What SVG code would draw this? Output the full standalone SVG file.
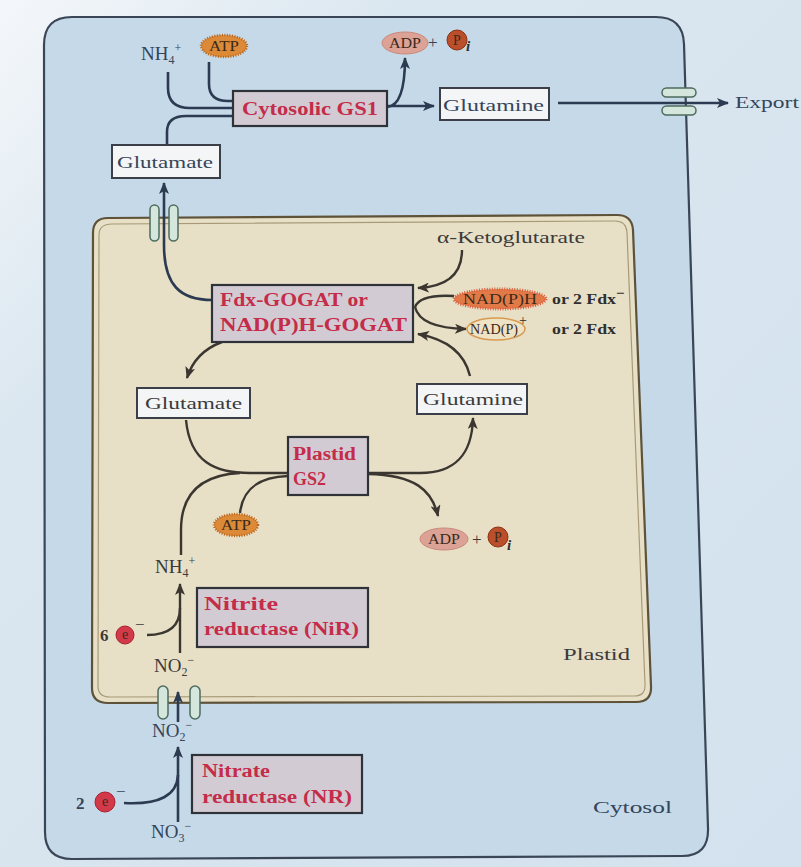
<svg xmlns="http://www.w3.org/2000/svg" width="801" height="867" viewBox="0 0 801 867">
<defs>
<linearGradient id="bg" x1="0" y1="0" x2="1" y2="1">
<stop offset="0" stop-color="#f4f7fa"/>
<stop offset="0.25" stop-color="#dbe7f0"/>
<stop offset="1" stop-color="#d3e2ee"/>
</linearGradient>
<marker id="ah" viewBox="0 0 12 10" refX="11" refY="5" markerWidth="12" markerHeight="10" markerUnits="userSpaceOnUse" orient="auto">
<path d="M0 0 L12 5 L0 10 L3 5 Z" fill="#2c3a52"/>
</marker>
<marker id="ahp" viewBox="0 0 12 10" refX="11" refY="5" markerWidth="12" markerHeight="10" markerUnits="userSpaceOnUse" orient="auto">
<path d="M0 0 L12 5 L0 10 L3 5 Z" fill="#3b3630"/>
</marker>
<style>
.t{font-family:"Liberation Serif","DejaVu Serif",serif;font-size:17px;fill:#34455a}
.tp{font-family:"Liberation Serif","DejaVu Serif",serif;font-size:17px;fill:#3c3a3a}
.chem{font-size:19px}
.enz{font-family:"Liberation Serif","DejaVu Serif",serif;font-weight:bold;font-size:18px;fill:#c42c4a}
.sm{font-family:"Liberation Serif","DejaVu Serif",serif;font-size:14px;fill:#3a2a1a;text-anchor:middle}
.smb{font-family:"Liberation Serif","DejaVu Serif",serif;font-size:15px;font-weight:bold;fill:#2f2f2f}
.box{fill:#f3f5f7;stroke:#3a3f48;stroke-width:2}
.ebox{fill:#d3cbd3;stroke:#2f3238;stroke-width:2.2}
.ln{fill:none;stroke:#2c3a52;stroke-width:2.6}
.lnp{fill:none;stroke:#3b3630;stroke-width:2.4}
.atp{fill:#dc8a38;stroke:#b8641c;stroke-width:2.5;stroke-dasharray:1 1.5}
.adp{fill:#dca296;stroke:#c98a7c;stroke-width:1}
.pi{fill:#bb4f2c;stroke:#8a3010;stroke-width:1}
.ec{fill:#d23a4a;stroke:#a82030;stroke-width:1}
.pill{fill:#d5e6dc;stroke:#4d6b5e;stroke-width:1.5}
</style>
</defs>
<rect x="0" y="0" width="801" height="867" fill="url(#bg)"/>

<g id="cytosol">
<path d="M72 17 L656 17 Q683 17 684 44 L708 828 Q709 856 682 856 L72 859 Q45 859 45 832 L44 45 Q44 17 72 17 Z" fill="#c6d9e8" stroke="#3a4656" stroke-width="2.2"/>
<text class="t" x="593" y="813" textLength="79" lengthAdjust="spacingAndGlyphs">Cytosol</text>
</g>

<g id="plastid">
<path d="M108 218 L617 215 Q632 215 633 230 L651 686 Q652 702 636 702 L108 703 Q92 703 92 688 L93 233 Q93 218 108 218 Z" fill="#e7e0c7" stroke="#5e5238" stroke-width="2.2"/>
<path d="M112 224 L615 221 Q626 221 627 232 L645 684 Q646 696 634 696 L110 697 Q98 697 98 686 L99 235 Q99 224 112 224 Z" fill="none" stroke="#a89a78" stroke-width="1.2"/>
<text class="tp" x="563" y="660" textLength="67" lengthAdjust="spacingAndGlyphs">Plastid</text>
</g>

<g id="connectors">
<path class="ln" d="M168 72 L168 88 Q168 108 190 108 L234 108"/>
<path class="ln" d="M209 62 L209 84 Q209 101 228 101 L234 101"/>
<path class="ln" d="M167 145 L167 132 Q167 116 186 116 L234 116"/>
<path class="ln" d="M387 107 Q405 106 405 58" marker-end="url(#ah)"/>
<path class="ln" d="M387 106 L434 106" marker-end="url(#ah)"/>
<path class="ln" d="M558 103 L728 103" marker-end="url(#ah)"/>
<path class="ln" d="M212 300 C180 300 164 285 164 245 L164 183" marker-end="url(#ah)"/>
<path class="lnp" d="M462 250 Q462 286 418 288" marker-end="url(#ahp)"/>
<path class="lnp" d="M454 296 Q420 294 415 307"/>
<path class="lnp" d="M415 307 Q420 328 466 329" marker-end="url(#ahp)"/>
<path class="lnp" d="M470 376 Q462 342 418 334" marker-end="url(#ahp)"/>
<path class="lnp" d="M222 342 Q195 352 187 378" marker-end="url(#ahp)"/>
<path class="lnp" d="M186 420 C190 462 215 473 250 473 L288 473"/>
<path class="lnp" d="M181 555 L181 530 C181 495 200 475 240 473"/>
<path class="lnp" d="M240 513 C243 486 262 477 288 476"/>
<path class="lnp" d="M368 473 L420 473 C455 473 472 455 473 418" marker-end="url(#ahp)"/>
<path class="lnp" d="M368 474 C415 475 432 490 438 516" marker-end="url(#ahp)"/>
<path class="lnp" d="M180 653 L180 584" marker-end="url(#ahp)"/>
<path class="lnp" d="M147 635 C170 635 180 625 180 608"/>
<path class="ln" d="M178 722 L178 692" marker-end="url(#ah)"/>
<path class="ln" d="M178 822 L178 747" marker-end="url(#ah)"/>
<path class="ln" d="M124 803 C160 805 177 795 178 775"/>
</g>

<g id="transporter-export">
<rect class="pill" x="662" y="88" width="34" height="9" rx="4.5"/>
<rect class="pill" x="662" y="106" width="34" height="9" rx="4.5"/>
</g>
<g id="transporter-glu">
<rect class="pill" x="150" y="205" width="9" height="36" rx="4.5"/>
<rect class="pill" x="169" y="205" width="9" height="36" rx="4.5"/>
</g>
<g id="transporter-no2">
<rect class="pill" x="158" y="686" width="10" height="33" rx="5"/>
<rect class="pill" x="190" y="686" width="10" height="33" rx="5"/>
</g>

<g id="nh4-cyt"><text class="t chem" x="141" y="60">NH<tspan font-size="12" dy="4">4</tspan><tspan font-size="12" dy="-12">+</tspan></text></g>
<g id="atp-cyt"><ellipse class="atp" cx="224" cy="46" rx="23" ry="11"/><text class="sm" x="224" y="51" textLength="30" lengthAdjust="spacingAndGlyphs">ATP</text></g>
<g id="adp-cyt">
<ellipse class="adp" cx="405" cy="43" rx="23" ry="11"/><text class="sm" x="405" y="48" textLength="32" lengthAdjust="spacingAndGlyphs">ADP</text>
<text class="t" x="428" y="48" font-size="16" fill="#5a3a30">+</text>
<circle class="pi" cx="457" cy="40" r="10"/><text class="sm" x="457" y="45" fill="#f4d8cc">P</text>
<text class="smb" x="466" y="51" font-size="12" font-style="italic" fill="#2a2a2a">i</text>
</g>
<g id="gs1"><rect class="ebox" x="233" y="91" width="154" height="35"/><text class="enz" x="242" y="115" textLength="136" lengthAdjust="spacingAndGlyphs">Cytosolic GS1</text></g>
<g id="glutamine-cyt"><rect class="box" x="440" y="88" width="109" height="32"/><text class="t" x="443" y="111" textLength="101" lengthAdjust="spacingAndGlyphs">Glutamine</text></g>
<g id="export"><text class="t" x="735" y="108" textLength="64" lengthAdjust="spacingAndGlyphs">Export</text></g>
<g id="glutamate-cyt"><rect class="box" x="112" y="145" width="108" height="33"/><text class="t" x="117" y="168" textLength="96" lengthAdjust="spacingAndGlyphs">Glutamate</text></g>

<g id="akg"><text class="tp" x="437" y="243" textLength="148" lengthAdjust="spacingAndGlyphs">α-Ketoglutarate</text></g>
<g id="gogat"><rect class="ebox" x="212" y="285" width="201" height="57"/>
<text class="enz" x="220" y="306" textLength="148" lengthAdjust="spacingAndGlyphs">Fdx-GOGAT or</text>
<text class="enz" x="220" y="331" textLength="187" lengthAdjust="spacingAndGlyphs">NAD(P)H-GOGAT</text></g>
<g id="nadph"><ellipse cx="500" cy="299" rx="46" ry="10" fill="#e27a48" stroke="#d86040" stroke-width="3" stroke-dasharray="1 1.5"/>
<text class="sm" x="500" y="304" textLength="74" lengthAdjust="spacingAndGlyphs">NAD(P)H</text>
<text class="smb" x="552" y="304" textLength="64" lengthAdjust="spacingAndGlyphs">or  2 Fdx</text><text class="smb" x="616" y="298" font-size="10">−</text></g>
<g id="nadp"><ellipse cx="496" cy="329" rx="29" ry="11" fill="#efe3c6" stroke="#d89a50" stroke-width="1.5"/>
<text class="sm" x="494" y="334" textLength="48" lengthAdjust="spacingAndGlyphs">NAD(P)</text><text class="sm" x="523" y="325" font-size="10">+</text>
<text class="smb" x="552" y="334" textLength="64" lengthAdjust="spacingAndGlyphs">or  2 Fdx</text></g>
<g id="glutamate-pl"><rect class="box" x="137" y="388" width="113" height="30"/><text class="tp" x="145" y="409" textLength="97" lengthAdjust="spacingAndGlyphs" fill="#34455a">Glutamate</text></g>
<g id="glutamine-pl"><rect class="box" x="417" y="384" width="110" height="30"/><text class="tp" x="423" y="405" textLength="100" lengthAdjust="spacingAndGlyphs" fill="#34455a">Glutamine</text></g>
<g id="gs2"><rect class="ebox" x="288" y="437" width="80" height="58"/>
<text class="enz" x="293" y="460" textLength="63" lengthAdjust="spacingAndGlyphs">Plastid</text>
<text class="enz" x="293" y="485">GS2</text></g>
<g id="atp-pl"><ellipse class="atp" cx="236" cy="525" rx="22" ry="11"/><text class="sm" x="236" y="530" textLength="30" lengthAdjust="spacingAndGlyphs">ATP</text></g>
<g id="adp-pl"><ellipse class="adp" cx="444" cy="539" rx="24" ry="11"/><text class="sm" x="444" y="544" textLength="32" lengthAdjust="spacingAndGlyphs">ADP</text>
<text class="tp" x="472" y="545" font-size="16" fill="#5a3a30">+</text>
<circle class="pi" cx="498" cy="537" r="10"/><text class="sm" x="498" y="542" fill="#f4d8cc">P</text>
<text class="smb" x="507" y="550" font-size="12" font-style="italic">i</text></g>
<g id="nh4-pl"><text class="tp chem" x="155" y="573">NH<tspan font-size="12" dy="4">4</tspan><tspan font-size="12" dy="-12">+</tspan></text></g>
<g id="nir"><rect class="ebox" x="197" y="588" width="171" height="59"/>
<text class="enz" x="204" y="610" textLength="74" lengthAdjust="spacingAndGlyphs">Nitrite</text>
<text class="enz" x="204" y="635" textLength="155" lengthAdjust="spacingAndGlyphs">reductase (NiR)</text></g>
<g id="e6"><text class="tp" x="100" y="641" font-size="19" font-weight="bold">6</text><circle class="ec" cx="125" cy="635" r="9"/><text class="sm" x="125" y="639" font-size="11" fill="#f6cccc">e</text><text class="tp" x="135" y="630" font-size="12">−</text></g>
<g id="no2-pl"><text class="tp chem" x="154" y="672">NO<tspan font-size="12" dy="4">2</tspan><tspan font-size="12" dy="-12">−</tspan></text></g>
<g id="no2-cyt"><text class="t chem" x="152" y="737">NO<tspan font-size="12" dy="4">2</tspan><tspan font-size="12" dy="-12">−</tspan></text></g>
<g id="nr"><rect class="ebox" x="192" y="755" width="170" height="58"/>
<text class="enz" x="202" y="777" textLength="68" lengthAdjust="spacingAndGlyphs">Nitrate</text>
<text class="enz" x="202" y="803" textLength="150" lengthAdjust="spacingAndGlyphs">reductase (NR)</text></g>
<g id="e2"><text class="t" x="76" y="809" font-size="19" font-weight="bold">2</text><circle class="ec" cx="105" cy="802" r="10"/><text class="sm" x="105" y="806" font-size="11" fill="#f6cccc">e</text><text class="t" x="116" y="797" font-size="12">−</text></g>
<g id="no3"><text class="t chem" x="151" y="838">NO<tspan font-size="12" dy="4">3</tspan><tspan font-size="12" dy="-12">−</tspan></text></g>
</svg>
